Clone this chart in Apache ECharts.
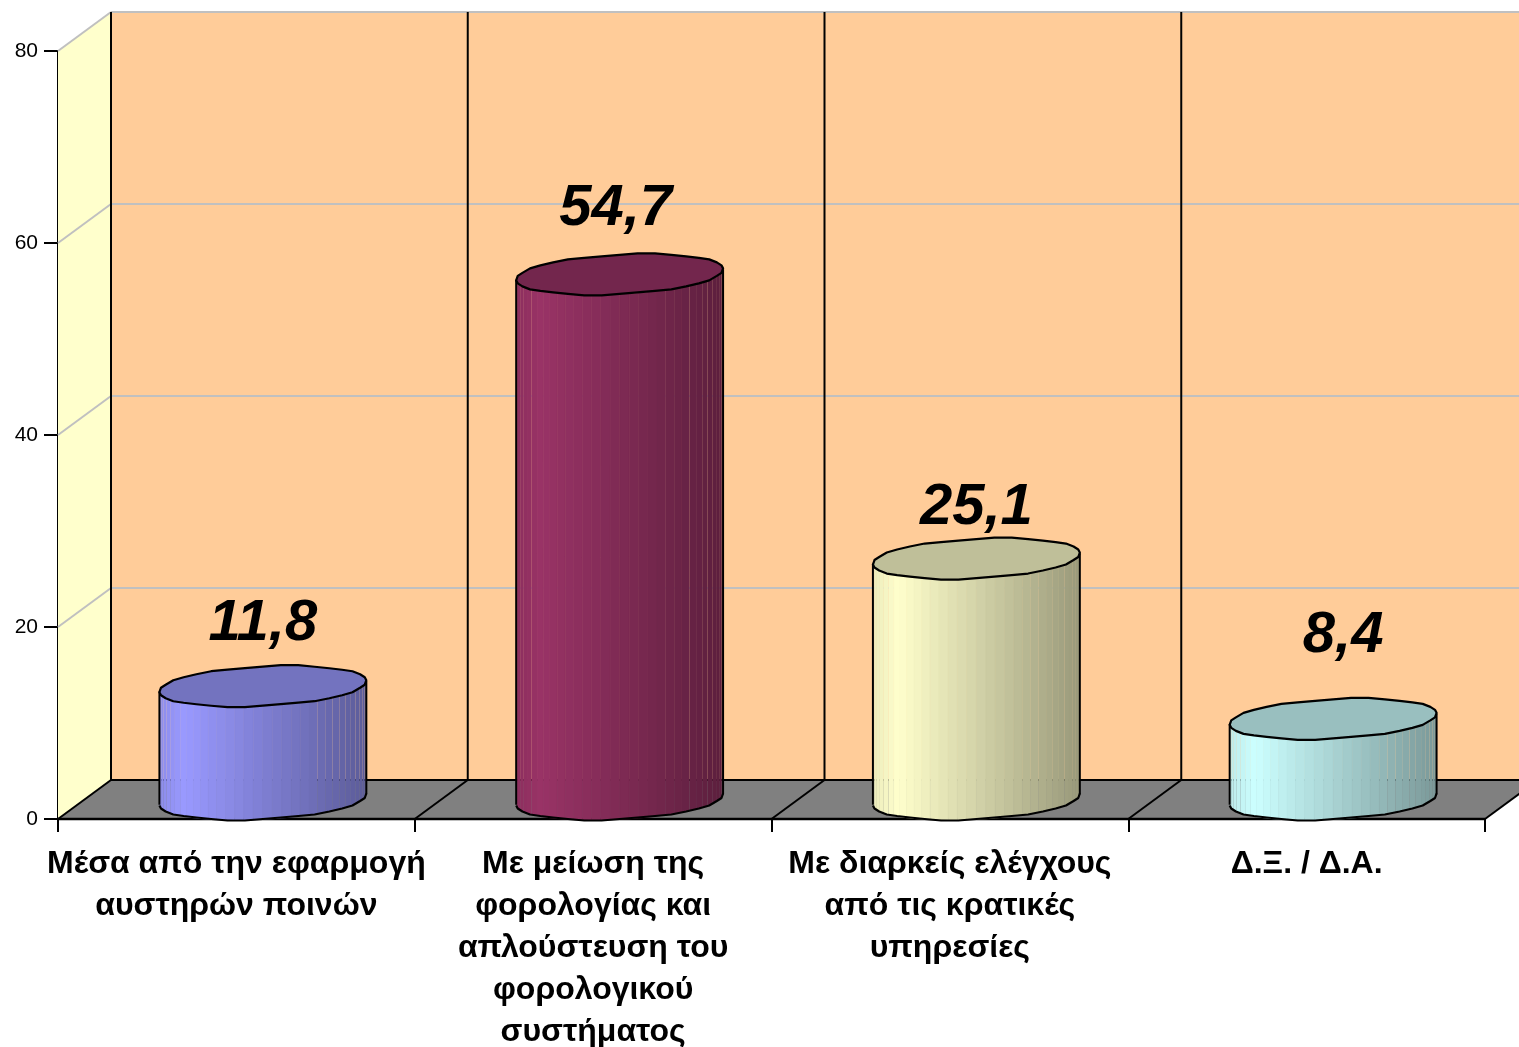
<!DOCTYPE html>
<html><head><meta charset="utf-8">
<style>html,body{margin:0;padding:0;background:#fff}#c{width:1519px;height:1047px}</style>
<script src="https://cdn.jsdelivr.net/npm/echarts@6/dist/echarts.min.js"></script>
</head><body><div id="c"></div>
<script>
const categories = [
  'Μέσα από την εφαρμογή\nαυστηρών ποινών',
  'Με μείωση της\nφορολογίας και\nαπλούστευση του\nφορολογικού\nσυστήματος',
  'Με διαρκείς ελέγχους\nαπό τις κρατικές\nυπηρεσίες',
  'Δ.Ξ. / Δ.Α.'
];
const values = [11.8, 54.7, 25.1, 8.4];
const barColors = [[153,153,255],[153,51,102],[255,255,204],[204,255,255]];
const labelShift = [[0,-62],[-4,-65],[0,-51],[10,-83]];
const tickValues = [20,40,60,80];
const DX = 53, DY = 39, FONT = '"Liberation Sans", Arial, sans-serif';

const chart = echarts.init(document.getElementById('c'), null, {renderer:'canvas'});

function wallItem(params, api){
  const o = api.coord([0,0]), band = api.size([1,0])[0];
  const x0 = o[0]-band/2, y0 = o[1];
  const top = api.coord([0,80])[1];
  const x1 = x0+band*categories.length;
  const kids = [];
  const poly = (pts,fill)=>kids.push({type:'polygon',shape:{points:pts},style:{fill:fill,stroke:null}});
  const line = (a,b,c,w)=>kids.push({type:'line',shape:{x1:a[0],y1:a[1],x2:b[0],y2:b[1]},style:{stroke:c,lineWidth:w}});
  poly([[x0+DX,top-DY],[x1+DX,top-DY],[x1+DX,y0-DY],[x0+DX,y0-DY]],'#FFCC99');
  poly([[x0,top],[x0+DX,top-DY],[x0+DX,y0-DY],[x0,y0]],'#FFFFCC');
  poly([[x0,y0],[x0+DX,y0-DY],[x1+DX,y0-DY],[x1,y0]],'#808080');
  tickValues.forEach(v=>{
    const y = api.coord([0,v])[1];
    line([x0,y],[x0+DX,y-DY],'#C0C0C0',2);
    line([x0+DX,y-DY],[x1+DX,y-DY],'#C0C0C0',2);
  });
  for(let i=0;i<=categories.length;i++){
    const x = x0+band*i;
    line([x+DX,y0-DY],[x+DX,top-DY],'#000',2);
    line([x,y0],[x+DX,y0-DY],'#000',2);
  }
  line([x0+DX,y0-DY],[x1+DX,y0-DY],'#000',2);
  line([x0,y0],[x1,y0],'#000',2.5);
  return {type:'group',children:kids};
}

function barItem(params, api){
  const i = api.value(0), v = api.value(1);
  const b = api.coord([i,0]), t = api.coord([i,v]);
  const cx = b[0]+DX/2, dy = 20.5, dx = DX/2, a = 100;
  const cyB = b[1]-DY/2, cyT = t[1]-DY/2;
  const phi = Math.atan2(dx,a), R = Math.hypot(a,dx);
  const snap = n=>Math.round(n/1.5)*1.5;
  const pt = (s,cy)=>[cx+a*Math.cos(s)+dx*Math.sin(s), cy-dy*Math.sin(s)];
  const c = barColors[i];
  const shade = f=>`rgb(${c.map(n=>Math.round(n*f)).join(',')})`;
  const kids = [];
  const N = 34;
  for(let k=0;k<N;k++){
    const s0 = phi-Math.PI+Math.PI*k/N, s1 = phi-Math.PI+Math.PI*(k+1)/N;
    const m = (pt((s0+s1)/2,0)[0]-cx+R)/(2*R);
    const f = m<0.12 ? 0.92+0.08*m/0.12 : 1-(m-0.12)/0.88*0.4;
    const col = shade(f);
    const edge = m<0.09 || m>0.74;
    kids.push({type:'polygon',shape:{points:[pt(s0,cyT),pt(s1,cyT),pt(s1,cyB),pt(s0,cyB)]},
      style:{fill:col,stroke:edge?null:col,lineWidth:0.6}});
  }
  const wob = (p,cy)=>[p[0],cy+snap(p[1]-cy)];
  const top=[], arc=[];
  const M = 36;
  for(let k=0;k<M;k++) top.push(wob(pt(2*Math.PI*k/M+phi,cyT),cyT));
  for(let k=0;k<=M/2;k++) arc.push(wob(pt(phi-Math.PI+2*Math.PI*k/M,cyB),cyB));
  const L = pt(phi+Math.PI,cyT), Rr = pt(phi,cyT), Lb = pt(phi+Math.PI,cyB), Rb = pt(phi,cyB);
  kids.push({type:'polyline',shape:{points:arc},style:{fill:null,stroke:'#000',lineWidth:2.2,lineJoin:'round'}});
  kids.push({type:'line',shape:{x1:L[0],y1:L[1],x2:Lb[0],y2:Lb[1]},style:{stroke:'#000',lineWidth:2}});
  kids.push({type:'line',shape:{x1:Rr[0],y1:Rr[1],x2:Rb[0],y2:Rb[1]},style:{stroke:'#000',lineWidth:2}});
  kids.push({type:'polygon',shape:{points:top},style:{fill:shade(0.75),stroke:'#000',lineWidth:2.2,lineJoin:'round'}});
  const sh = labelShift[i];
  kids.push({type:'text',style:{text:String(v).replace('.',','),x:cx+sh[0],y:cyT+sh[1],align:'center',verticalAlign:'middle',
    font:`italic bold 58px ${FONT}`,fill:'#000'}});
  return {type:'group',children:kids};
}

chart.setOption({
  animation:false,
  backgroundColor:'#fff',
  grid:{left:58,right:34,top:51,bottom:228,containLabel:false,outerBoundsMode:'none'},
  xAxis:{type:'category',data:categories,boundaryGap:true,
    axisLine:{show:true,lineStyle:{color:'#000',width:2}},
    axisTick:{show:true,length:13,alignWithLabel:false,lineStyle:{color:'#000',width:2}},
    axisLabel:{interval:0,color:'#000',fontFamily:'"Liberation Sans", Arial, sans-serif',fontWeight:'bold',fontSize:32,lineHeight:42,margin:24,hideOverlap:false},
    splitLine:{show:false}},
  yAxis:{type:'value',min:0,max:80,interval:20,
    axisLine:{show:true,lineStyle:{color:'#000',width:2}},
    axisTick:{show:true,length:14,lineStyle:{color:'#000',width:2}},
    axisLabel:{color:'#000',fontFamily:'"Liberation Sans", Arial, sans-serif',fontSize:21,margin:20},
    splitLine:{show:false}},
  series:[
    {type:'custom',coordinateSystem:'cartesian2d',z:1,silent:true,clip:false,renderItem:wallItem,data:[[0,0]]},
    {type:'custom',coordinateSystem:'cartesian2d',z:5,silent:true,clip:false,renderItem:barItem,
     encode:{x:0,y:1},data:values.map((v,i)=>[i,v])}
  ]
});
</script></body></html>
